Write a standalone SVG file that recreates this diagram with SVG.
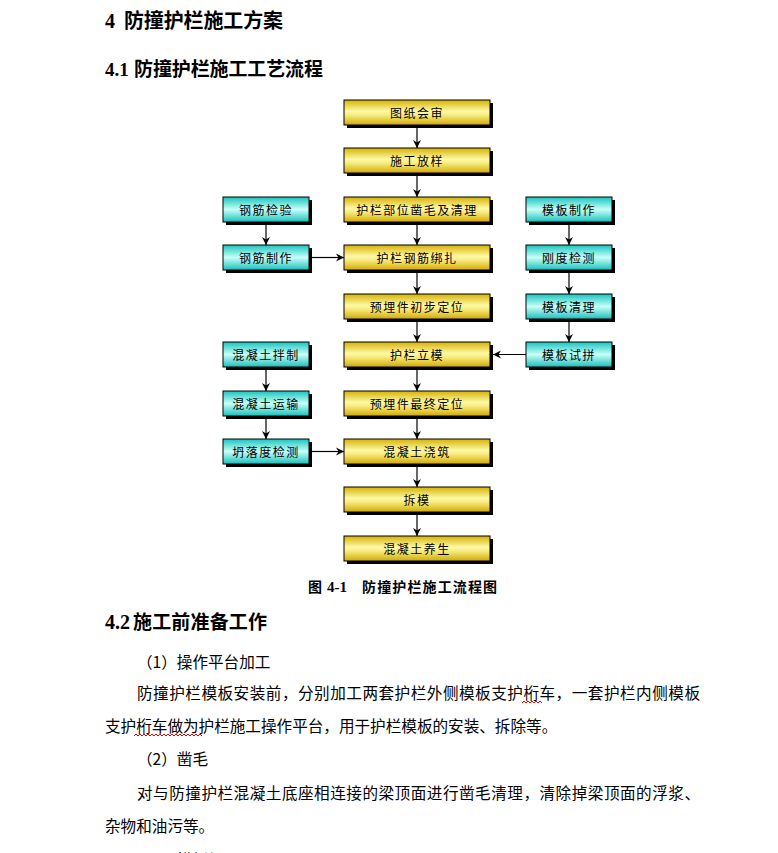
<svg xmlns="http://www.w3.org/2000/svg" width="778" height="853" viewBox="0 0 778 853">
<defs>
<linearGradient id="gy" x1="0" y1="0" x2="0" y2="1">
<stop offset="0" stop-color="#d6b200"/>
<stop offset="0.45" stop-color="#fff8a8"/>
<stop offset="0.6" stop-color="#f8ec80"/>
<stop offset="1" stop-color="#d2aa00"/>
</linearGradient>
<linearGradient id="gc" x1="0" y1="0" x2="0" y2="1">
<stop offset="0" stop-color="#18c4c0"/>
<stop offset="0.5" stop-color="#c8fff8"/>
<stop offset="1" stop-color="#18c0bc"/>
</linearGradient>
<marker id="ah" markerWidth="9" markerHeight="9" refX="8" refY="4.5" orient="auto" markerUnits="userSpaceOnUse">
<path d="M0,0.5 L8,4.5 L0,8.5 L2.5,4.5 Z" fill="#000"/>
</marker>
</defs>
<style>
.sh{fill:#000}
.y{fill:url(#gy);stroke:#000;stroke-width:1}
.c{fill:url(#gc);stroke:#000;stroke-width:1}
.bt{font-family:"Noto Sans CJK SC",sans-serif;font-size:12px;letter-spacing:1.5px;fill:#000;text-anchor:middle;dominant-baseline:central}
.ln{stroke:#000;stroke-width:1.2;fill:none;marker-end:url(#ah)}
.h{font-family:"Noto Sans CJK SC",sans-serif;font-weight:bold;fill:#000}
.num{font-family:"Liberation Serif",serif;font-weight:bold}
.body{font-family:"Noto Sans CJK SC",sans-serif;font-size:15.6px;fill:#000}
.cap{font-family:"Noto Sans CJK SC",sans-serif;font-weight:bold;font-size:14px;fill:#000}
.sq{stroke:#e00000;stroke-width:1;fill:none}
</style>
<rect width="778" height="853" fill="#fff"/>

<text class="h" x="105" y="28" font-size="20"><tspan class="num">4</tspan><tspan x="124" textLength="159">防撞护栏施工方案</tspan></text>
<text class="h" x="105" y="76" font-size="19"><tspan class="num">4.1</tspan><tspan x="134" textLength="189">防撞护栏施工工艺流程</tspan></text>

<g id="connectors">
<line class="ln" x1="417" y1="125" x2="417" y2="148"/>
<line class="ln" x1="417" y1="173" x2="417" y2="197"/>
<line class="ln" x1="417" y1="222" x2="417" y2="245"/>
<line class="ln" x1="417" y1="270" x2="417" y2="294"/>
<line class="ln" x1="417" y1="319" x2="417" y2="342"/>
<line class="ln" x1="417" y1="367" x2="417" y2="391"/>
<line class="ln" x1="417" y1="416" x2="417" y2="439"/>
<line class="ln" x1="417" y1="464" x2="417" y2="487"/>
<line class="ln" x1="417" y1="512" x2="417" y2="536"/>
<line class="ln" x1="266" y1="222" x2="266" y2="245"/>
<line class="ln" x1="266" y1="367" x2="266" y2="391"/>
<line class="ln" x1="266" y1="416" x2="266" y2="439"/>
<line class="ln" x1="569" y1="222" x2="569" y2="245"/>
<line class="ln" x1="569" y1="270" x2="569" y2="294"/>
<line class="ln" x1="569" y1="319" x2="569" y2="342"/>
<line class="ln" x1="312" y1="257.5" x2="344" y2="257.5"/>
<line class="ln" x1="312" y1="451.5" x2="344" y2="451.5"/>
<line class="ln" x1="526" y1="354.5" x2="493" y2="354.5"/>
</g>

<g id="n1"><rect class="sh" x="347" y="103" width="146" height="25"/><rect class="y" x="344" y="100" width="146" height="25"/><text class="bt" x="417" y="112.5">图纸会审</text></g>
<g id="n2"><rect class="sh" x="347" y="151" width="146" height="25"/><rect class="y" x="344" y="148" width="146" height="25"/><text class="bt" x="417" y="160.5">施工放样</text></g>
<g id="n3"><rect class="sh" x="347" y="200" width="146" height="25"/><rect class="y" x="344" y="197" width="146" height="25"/><text class="bt" x="417" y="209.5">护栏部位凿毛及清理</text></g>
<g id="n4"><rect class="sh" x="347" y="248" width="146" height="25"/><rect class="y" x="344" y="245" width="146" height="25"/><text class="bt" x="417" y="257.5">护栏钢筋绑扎</text></g>
<g id="n5"><rect class="sh" x="347" y="297" width="146" height="25"/><rect class="y" x="344" y="294" width="146" height="25"/><text class="bt" x="417" y="306.5">预埋件初步定位</text></g>
<g id="n6"><rect class="sh" x="347" y="345" width="146" height="25"/><rect class="y" x="344" y="342" width="146" height="25"/><text class="bt" x="417" y="354.5">护栏立模</text></g>
<g id="n7"><rect class="sh" x="347" y="394" width="146" height="25"/><rect class="y" x="344" y="391" width="146" height="25"/><text class="bt" x="417" y="403.5">预埋件最终定位</text></g>
<g id="n8"><rect class="sh" x="347" y="442" width="146" height="25"/><rect class="y" x="344" y="439" width="146" height="25"/><text class="bt" x="417" y="451.5">混凝土浇筑</text></g>
<g id="n9"><rect class="sh" x="347" y="490" width="146" height="25"/><rect class="y" x="344" y="487" width="146" height="25"/><text class="bt" x="417" y="499.5">拆模</text></g>
<g id="n10"><rect class="sh" x="347" y="539" width="146" height="25"/><rect class="y" x="344" y="536" width="146" height="25"/><text class="bt" x="417" y="548.5">混凝土养生</text></g>

<g id="l1"><rect class="sh" x="226" y="200" width="86" height="25"/><rect class="c" x="223" y="197" width="86" height="25"/><text class="bt" x="266" y="209.5">钢筋检验</text></g>
<g id="l2"><rect class="sh" x="226" y="248" width="86" height="25"/><rect class="c" x="223" y="245" width="86" height="25"/><text class="bt" x="266" y="257.5">钢筋制作</text></g>
<g id="l3"><rect class="sh" x="226" y="345" width="86" height="25"/><rect class="c" x="223" y="342" width="86" height="25"/><text class="bt" x="266" y="354.5">混凝土拌制</text></g>
<g id="l4"><rect class="sh" x="226" y="394" width="86" height="25"/><rect class="c" x="223" y="391" width="86" height="25"/><text class="bt" x="266" y="403.5">混凝土运输</text></g>
<g id="l5"><rect class="sh" x="226" y="442" width="86" height="25"/><rect class="c" x="223" y="439" width="86" height="25"/><text class="bt" x="266" y="451.5">坍落度检测</text></g>

<g id="r1"><rect class="sh" x="529" y="200" width="86" height="25"/><rect class="c" x="526" y="197" width="86" height="25"/><text class="bt" x="569" y="209.5">模板制作</text></g>
<g id="r2"><rect class="sh" x="529" y="248" width="86" height="25"/><rect class="c" x="526" y="245" width="86" height="25"/><text class="bt" x="569" y="257.5">刚度检测</text></g>
<g id="r3"><rect class="sh" x="529" y="297" width="86" height="25"/><rect class="c" x="526" y="294" width="86" height="25"/><text class="bt" x="569" y="306.5">模板清理</text></g>
<g id="r4"><rect class="sh" x="529" y="345" width="86" height="25"/><rect class="c" x="526" y="342" width="86" height="25"/><text class="bt" x="569" y="354.5">模板试拼</text></g>

<text class="cap" x="308" y="592">图<tspan class="num" x="327" font-size="15">4-1</tspan><tspan x="362" textLength="135">防撞护栏施工流程图</tspan></text>

<text class="h" x="105" y="629" font-size="19"><tspan class="num" font-size="20">4.2</tspan><tspan x="133" textLength="134">施工前准备工作</tspan></text>

<text class="body" x="137" y="668">（1）操作平台加工</text>
<text class="body" x="137" y="699" textLength="563">防撞护栏模板安装前，分别加工两套护栏外侧模板支护桁车，一套护栏内侧模板</text>
<text class="body" x="105" y="732">支护桁车做为护栏施工操作平台，用于护栏模板的安装、拆除等。</text>
<text class="body" x="137" y="765">（2）凿毛</text>
<text class="body" x="137" y="799" textLength="563">对与防撞护栏混凝土底座相连接的梁顶面进行凿毛清理，清除掉梁顶面的浮浆、</text>
<text class="body" x="105" y="832">杂物和油污等。</text>
<text class="body" x="137" y="866">（3）模板加工</text>

<path class="sq" d="M522,703 l2,-2 l2,2 l2,-2 l2,2 l2,-2 l2,2 l2,-2 l2,2 l2,-2 l2,2"/>
<path class="sq" d="M134,736 l2,-2 l2,2 l2,-2 l2,2 l2,-2 l2,2 l2,-2 l2,2 l2,-2 l2,2 l2,-2 l2,2 l2,-2 l2,2 l2,-2 l2,2 l2,-2 l2,2 l2,-2 l2,2 l2,-2 l2,2 l2,-2 l2,2 l2,-2 l2,2 l2,-2 l2,2 l2,-2 l2,2 l2,-2 l2,2 l2,-2 l2,2"/>
</svg>
